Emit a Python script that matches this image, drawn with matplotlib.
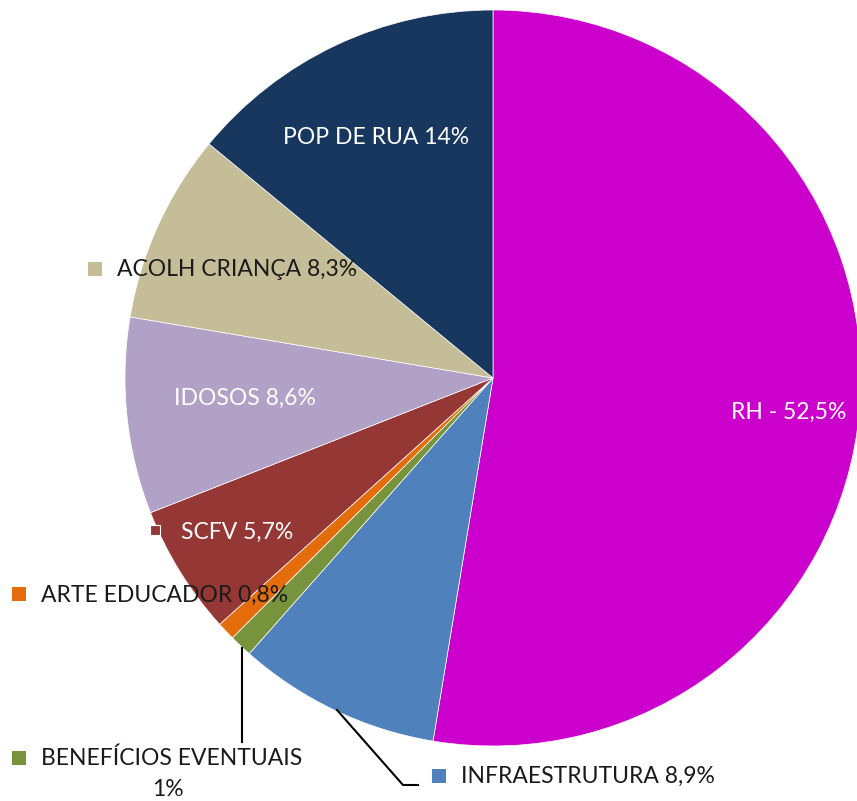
import matplotlib
matplotlib.use("Agg")
import matplotlib.pyplot as plt

# slices, clockwise from 12 o'clock
labels = ["RH - 52,5%", "INFRAESTRUTURA 8,9%", "BENEFÍCIOS EVENTUAIS\n1%", "ARTE EDUCADOR 0,8%",
          "SCFV 5,7%", "IDOSOS 8,6%", "ACOLH CRIANÇA 8,3%", "POP DE RUA 14%"]
values = [52.5, 8.9, 1.0, 0.8, 5.7, 8.6, 8.3, 14.0]
colors = ["#CC00CC", "#4F81BD", "#77933C", "#E46C0A", "#953735", "#B2A1C7", "#C4BD97", "#17375E"]

W, H = 857, 801
fig = plt.figure(figsize=(W / 100, H / 100), dpi=100)
ax = fig.add_axes([0, 0, 1, 1])

def Y(py):
    return H - py

ax.pie(values, colors=colors, startangle=90, counterclock=False,
       center=(493, Y(378)), radius=368, frame=True,
       wedgeprops=dict(linewidth=0.5, edgecolor="white"))
ax.set_xlim(0, W)
ax.set_ylim(0, H)
ax.axis("off")

font = "Lato"
fs = 16.5

# labels inside slices
ax.text(376, Y(137), labels[7], color="white", fontsize=fs, family=font, ha="center", va="center")
ax.text(789, Y(412), labels[0], color="white", fontsize=fs, family=font, ha="center", va="center")
ax.text(245, Y(398), labels[5], color="white", fontsize=fs, family=font, ha="center", va="center")
ax.text(181, Y(532), labels[4], color="white", fontsize=fs, family=font, ha="left", va="center")
ax.plot([155], [Y(530)], marker="s", markersize=7, color=colors[4], markeredgecolor="white", markeredgewidth=0.8)

# outside labels with legend keys
dark = "#1a1a1a"
keys = [(95, 269, 6, 117, 270), (19, 594, 3, 41, 595), (19, 758, 2, 41, 758), (439, 776, 1, 461, 776)]
for kx, ky, i, tx, ty in keys:
    ax.plot([kx], [Y(ky)], marker="s", markersize=10, color=colors[i], markeredgewidth=0)
    txt = labels[i].split("\n")[0]
    ax.text(tx, Y(ty), txt, color=dark, fontsize=fs, family=font, ha="left", va="center")
ax.text(168, Y(790), "1%", color=dark, fontsize=fs, family=font, ha="center", va="center")

# leader lines
ax.plot([242, 242], [Y(648), Y(742)], color="black", linewidth=1.5)
ax.plot([337, 403, 418], [Y(710), Y(785), Y(785)], color="black", linewidth=1.5)

fig.savefig("out.png", dpi=100)
